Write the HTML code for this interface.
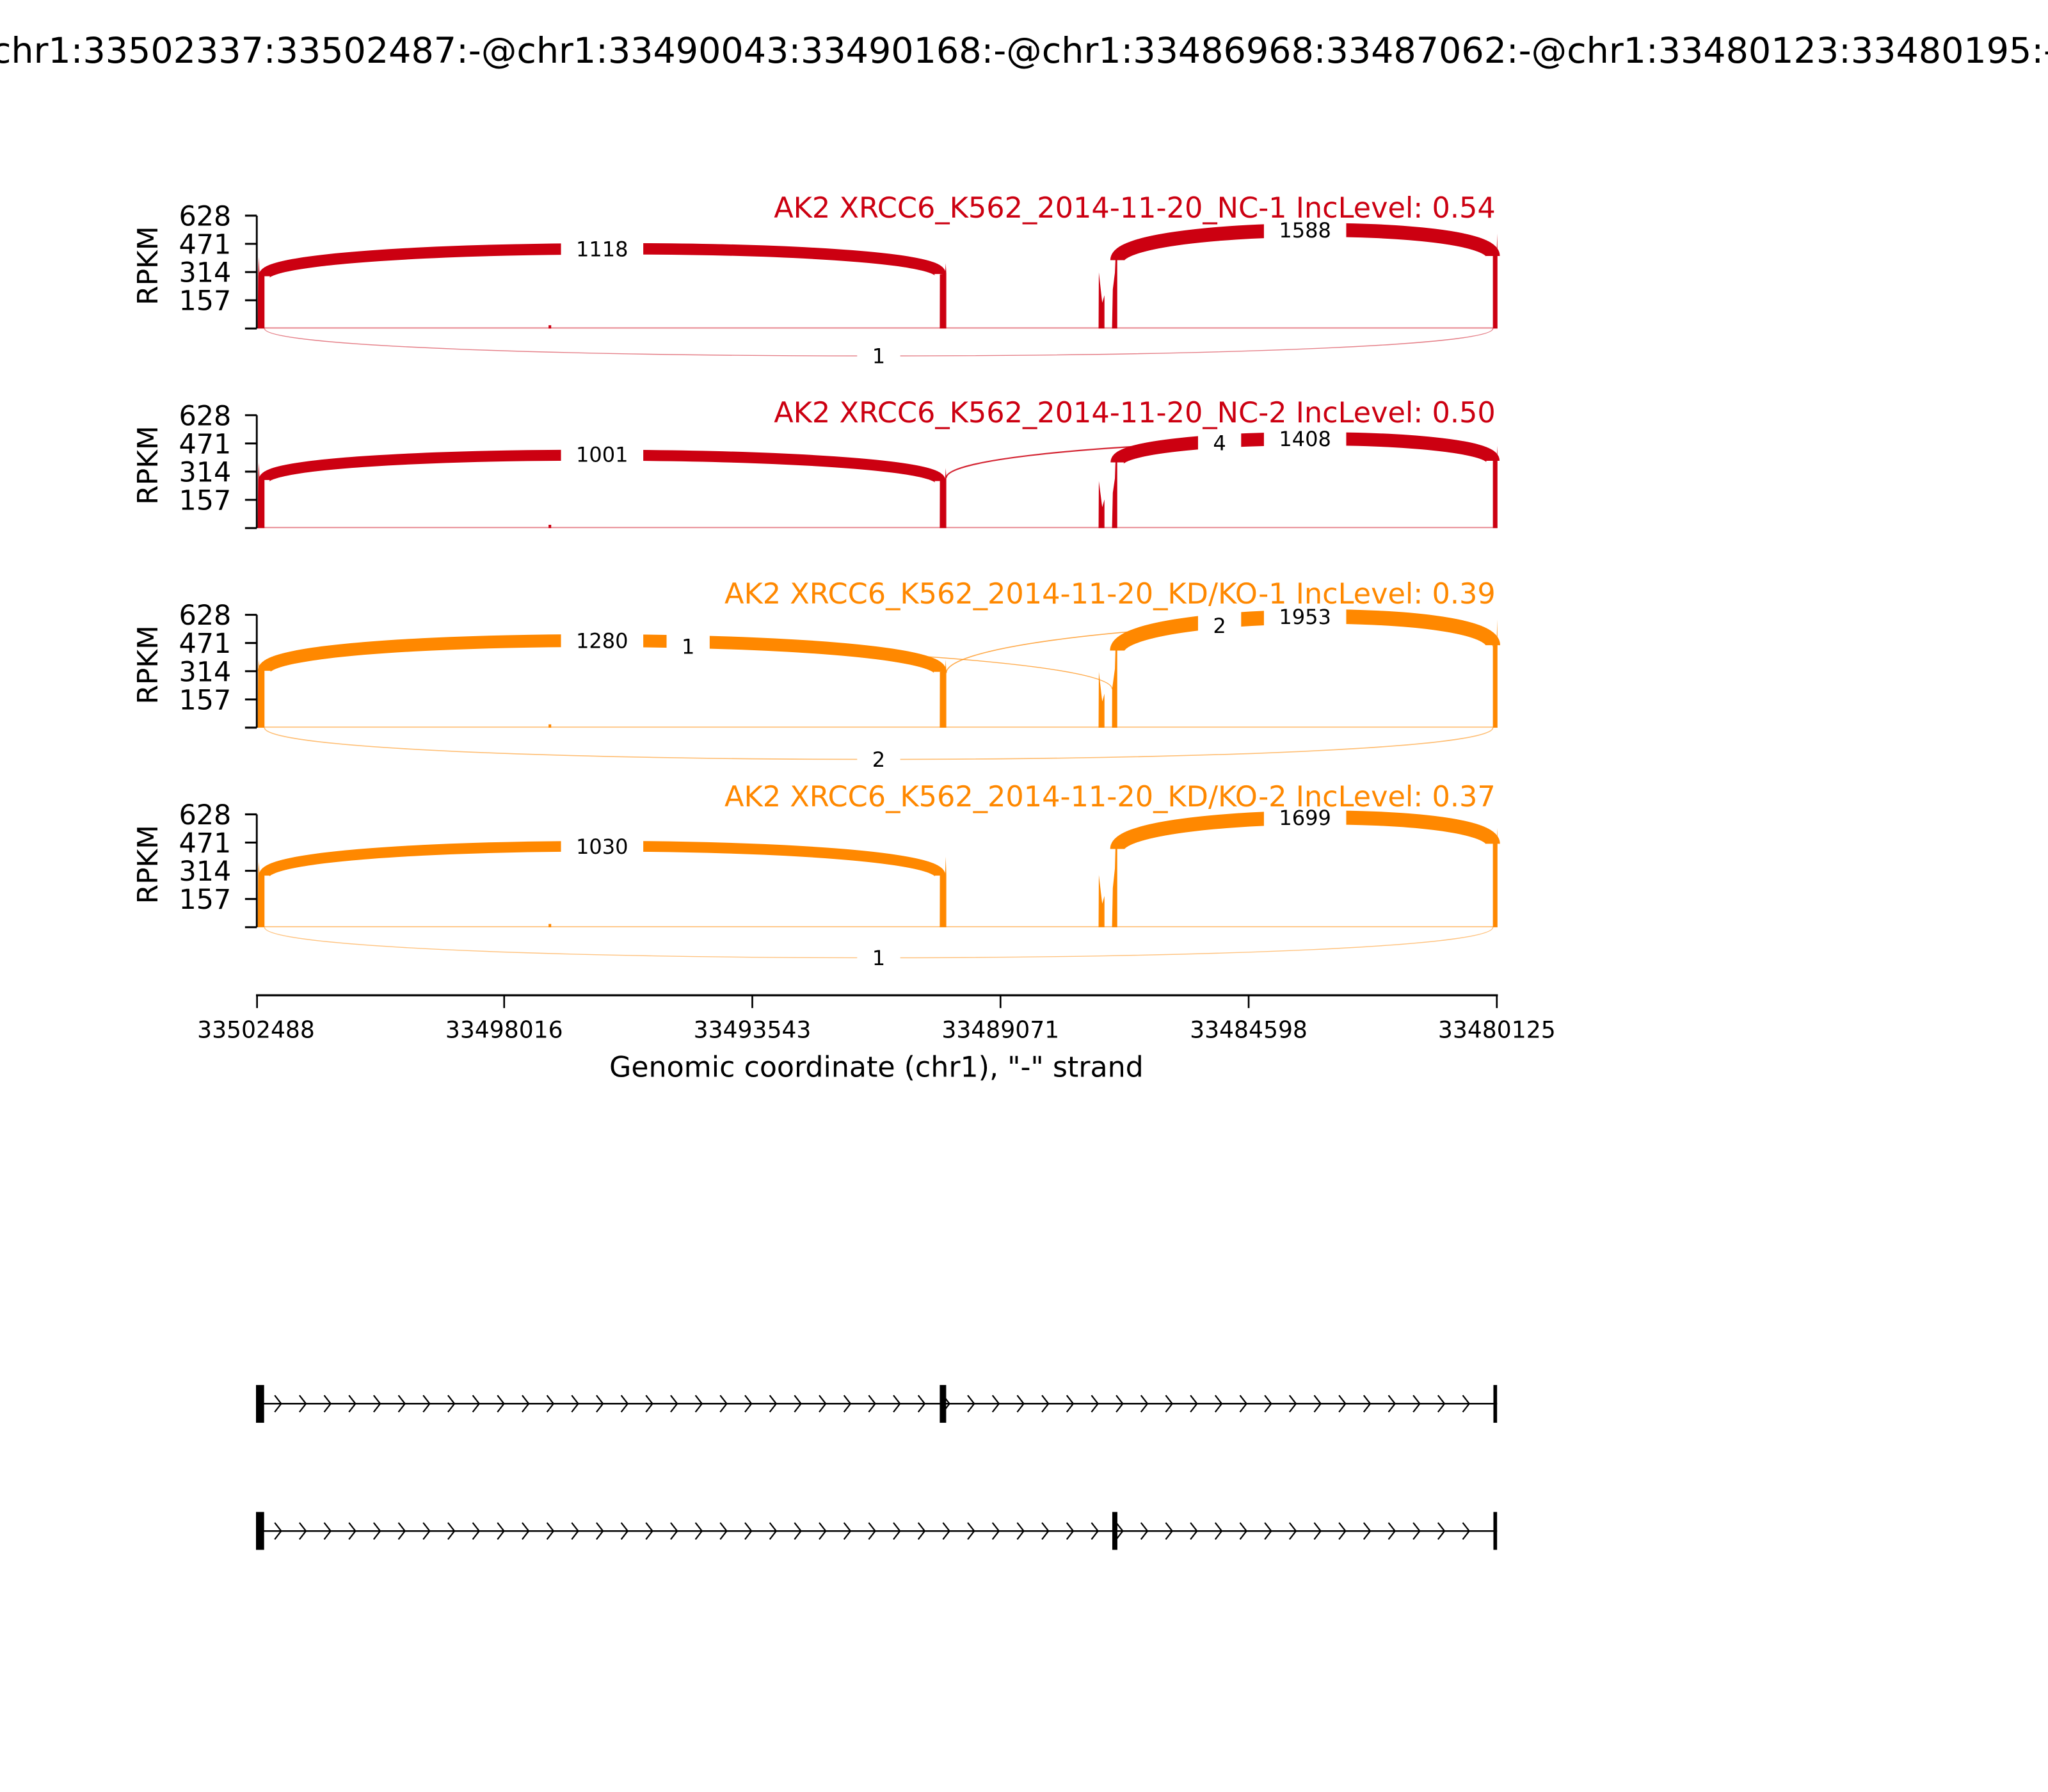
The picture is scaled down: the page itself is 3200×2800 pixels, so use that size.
<!DOCTYPE html>
<html><head><meta charset="utf-8"><style>
html,body{margin:0;padding:0;background:#fff;}
svg{display:block;}
text{font-family:"DejaVu Sans","Liberation Sans",sans-serif;}
</style></head><body>
<svg xmlns="http://www.w3.org/2000/svg" width="3200" height="2800" viewBox="0 0 1568 1372">
<rect x="0" y="0" width="1568" height="1372" fill="#fff"/>
<text x="784" y="48" font-size="27.2" text-anchor="middle" fill="#000">chr1:33502337:33502487:-@chr1:33490043:33490168:-@chr1:33486968:33487062:-@chr1:33480123:33480195:-</text>

<!-- Panel 1 -->
<g transform="translate(0,251.5)">
 <g fill="#CC0011" stroke="none">
  <path d="M197.3,0 L197.6,-40 L198.2,-54.7 L198.7,-41 L202.5,-40 L202.5,0Z"/>
  <path d="M719.5,0 L719.6,-41.5 L723.6,-42 L724.1,-50 L724.5,-42 L724.5,0Z"/>
  <path d="M841.1,0 L841.3,-43 L843.9,-19.7 L845.6,-25.5 L845.6,0Z"/>
  <path d="M851.4,0 L852,-30 L853.6,-42.7 L854,-52.3 L855.4,-52.3 L855.4,0Z"/>
  <path d="M1143,0 L1143,-55.5 L1145.8,-56 L1146.3,-72.7 L1146.5,-56 L1146.5,0Z"/>
  <rect x="420" y="-2.5" width="2" height="2.5"/>
 </g>
 <line x1="196.6" x2="1146.5" y1="-0.4" y2="-0.4" stroke="#CC0011" stroke-opacity="0.45" stroke-width="1"/>
 <g fill="none" stroke="#CC0011">
  <path d="M202.3,-40 C202.3,-66.87 719.8,-68.57 719.8,-41.7" stroke-width="8.7"/>
  <path d="M855.4,-52.3 C855.4,-80.83 1143,-84.03 1143,-55.5" stroke-width="10.6"/>
  <path d="M202.5,0 C202.5,28 1143,28 1143,0" stroke-width="0.7" stroke-opacity="0.5"/>
 </g>
 <g font-size="15.7" text-anchor="middle" fill="#000">
  <rect x="429.5" y="-77" width="63" height="32" fill="#fff"/><text x="461" y="-55.35">1118</text>
  <rect x="967.7" y="-91.3" width="63" height="32" fill="#fff"/><text x="999.2" y="-69.65">1588</text>
  <rect x="656.25" y="5" width="33" height="32" fill="#fff"/><text x="672.75" y="26.65">1</text>
 </g>
 <line x1="196.6" x2="196.6" y1="-86.4" y2="0" stroke="#000" stroke-width="1.4"/>
 <g stroke="#000" stroke-width="1.5">
  <line x1="187.6" x2="196.6" y1="0" y2="0"/><line x1="187.6" x2="196.6" y1="-21.6" y2="-21.6"/>
  <line x1="187.6" x2="196.6" y1="-43.2" y2="-43.2"/><line x1="187.6" x2="196.6" y1="-64.8" y2="-64.8"/>
  <line x1="187.6" x2="196.6" y1="-86.4" y2="-86.4"/>
 </g>
 <g font-size="21" text-anchor="end" fill="#000">
  <text x="177" y="-14">157</text><text x="177" y="-35.6">314</text><text x="177" y="-57.2">471</text><text x="177" y="-78.8">628</text>
 </g>
 <text transform="translate(120.5,-48.1) rotate(-90)" font-size="21.5" text-anchor="middle" fill="#000">RPKM</text>
 <text x="1145" y="-84.9" font-size="21.85" text-anchor="end" fill="#CC0011">AK2 XRCC6_K562_2014-11-20_NC-1 IncLevel: 0.54</text>
</g>

<!-- Panel 2 -->
<g transform="translate(0,404.3)">
 <g fill="#CC0011" stroke="none">
  <path d="M197.3,0 L197.6,-36.8 L198.2,-50 L198.7,-37.5 L202.5,-36.8 L202.5,0Z"/>
  <path d="M719.5,0 L719.6,-36 L723.6,-37 L724.1,-46 L724.5,-38.5 L724.5,0Z"/>
  <path d="M841.1,0 L841.3,-36 L843.9,-16 L845.6,-22 L845.6,0Z"/>
  <path d="M851.4,0 L852,-27 L853.6,-38 L854,-50.3 L855.4,-50.3 L855.4,0Z"/>
  <path d="M1143,0 L1143,-51.5 L1145.8,-52 L1146.3,-63 L1146.5,-52 L1146.5,0Z"/>
  <rect x="420" y="-2.5" width="2" height="2.5"/>
 </g>
 <line x1="196.6" x2="1146.5" y1="-0.4" y2="-0.4" stroke="#CC0011" stroke-opacity="0.45" stroke-width="1"/>
 <g fill="none" stroke="#CC0011">
  <path d="M724.5,-38.5 C724.5,-65.57 1143,-78.57 1143,-51.5" stroke-width="1.1" stroke-opacity="0.85"/>
  <path d="M202.3,-36.8 C202.3,-62.67 719.8,-61.87 719.8,-36" stroke-width="8.4"/>
  <path d="M855.4,-50.3 C855.4,-73.63 1143,-74.83 1143,-51.5" stroke-width="10.2"/>
 </g>
 <g font-size="15.7" text-anchor="middle" fill="#000">
  <rect x="429.5" y="-72.3" width="63" height="32" fill="#fff"/><text x="461" y="-50.65">1001</text>
  <rect x="917.25" y="-81.3" width="33" height="32" fill="#fff"/><text x="933.75" y="-59.65">4</text>
  <rect x="967.7" y="-84.4" width="63" height="32" fill="#fff"/><text x="999.2" y="-62.75">1408</text>
 </g>
 <line x1="196.6" x2="196.6" y1="-86.4" y2="0" stroke="#000" stroke-width="1.4"/>
 <g stroke="#000" stroke-width="1.5">
  <line x1="187.6" x2="196.6" y1="0" y2="0"/><line x1="187.6" x2="196.6" y1="-21.6" y2="-21.6"/>
  <line x1="187.6" x2="196.6" y1="-43.2" y2="-43.2"/><line x1="187.6" x2="196.6" y1="-64.8" y2="-64.8"/>
  <line x1="187.6" x2="196.6" y1="-86.4" y2="-86.4"/>
 </g>
 <g font-size="21" text-anchor="end" fill="#000">
  <text x="177" y="-14">157</text><text x="177" y="-35.6">314</text><text x="177" y="-57.2">471</text><text x="177" y="-78.8">628</text>
 </g>
 <text transform="translate(120.5,-48.1) rotate(-90)" font-size="21.5" text-anchor="middle" fill="#000">RPKM</text>
 <text x="1145" y="-80.9" font-size="21.85" text-anchor="end" fill="#CC0011">AK2 XRCC6_K562_2014-11-20_NC-2 IncLevel: 0.50</text>
</g>

<!-- Panel 3 -->
<g transform="translate(0,557.1)">
 <g fill="#FF8800" stroke="none">
  <path d="M197.3,0 L197.6,-43.5 L198.2,-52 L198.7,-44 L202.5,-43.5 L202.5,0Z"/>
  <path d="M719.5,0 L719.6,-42.7 L723.6,-43 L724.1,-52 L724.5,-41.8 L724.5,0Z"/>
  <path d="M841.1,0 L841.3,-42.7 L843.9,-20 L845.6,-26 L845.6,0Z"/>
  <path d="M851.4,0 L851.5,-29.6 L853.6,-45 L854,-59 L855.4,-59 L855.4,0Z"/>
  <path d="M1143,0 L1143,-63 L1145.8,-63.5 L1146.3,-82.7 L1146.5,-63.5 L1146.5,0Z"/>
  <rect x="420" y="-2.5" width="2" height="2.5"/>
 </g>
 <line x1="196.6" x2="1146.5" y1="-0.4" y2="-0.4" stroke="#FF8800" stroke-opacity="0.45" stroke-width="1"/>
 <g fill="none" stroke="#FF8800">
  <path d="M202.3,-43.5 C202.3,-77.83 851.4,-63.93 851.4,-29.6" stroke-width="0.7" stroke-opacity="0.7"/>
  <path d="M724.5,-41.8 C724.5,-76.53 1143,-97.03 1143,-62.3" stroke-width="0.8" stroke-opacity="0.7"/>
  <path d="M202.3,-43.5 C202.3,-74.83 719.8,-74.03 719.8,-42.7" stroke-width="9.8"/>
  <path d="M855.4,-59 C855.4,-90.8 1143,-94.9 1143,-63.1" stroke-width="11.1"/>
  <path d="M202.5,0 C202.5,32.4 1143,32.4 1143,0" stroke-width="0.8" stroke-opacity="0.55"/>
 </g>
 <g font-size="15.7" text-anchor="middle" fill="#000">
  <rect x="429.5" y="-82.6" width="63" height="32" fill="#fff"/><text x="461" y="-60.95">1280</text>
  <rect x="510.35" y="-78.3" width="33" height="32" fill="#fff"/><text x="526.85" y="-56.65">1</text>
  <rect x="917.25" y="-94.1" width="33" height="32" fill="#fff"/><text x="933.75" y="-72.45">2</text>
  <rect x="967.7" y="-100.9" width="63" height="32" fill="#fff"/><text x="999.2" y="-79.25">1953</text>
  <rect x="656.25" y="8.3" width="33" height="32" fill="#fff"/><text x="672.75" y="29.95">2</text>
 </g>
 <line x1="196.6" x2="196.6" y1="-86.4" y2="0" stroke="#000" stroke-width="1.4"/>
 <g stroke="#000" stroke-width="1.5">
  <line x1="187.6" x2="196.6" y1="0" y2="0"/><line x1="187.6" x2="196.6" y1="-21.6" y2="-21.6"/>
  <line x1="187.6" x2="196.6" y1="-43.2" y2="-43.2"/><line x1="187.6" x2="196.6" y1="-64.8" y2="-64.8"/>
  <line x1="187.6" x2="196.6" y1="-86.4" y2="-86.4"/>
 </g>
 <g font-size="21" text-anchor="end" fill="#000">
  <text x="177" y="-14">157</text><text x="177" y="-35.6">314</text><text x="177" y="-57.2">471</text><text x="177" y="-78.8">628</text>
 </g>
 <text transform="translate(120.5,-48.1) rotate(-90)" font-size="21.5" text-anchor="middle" fill="#000">RPKM</text>
 <text x="1145" y="-95" font-size="21.85" text-anchor="end" fill="#FF8800">AK2 XRCC6_K562_2014-11-20_KD/KO-1 IncLevel: 0.39</text>
</g>

<!-- Panel 4 -->
<g transform="translate(0,709.9)">
 <g fill="#FF8800" stroke="none">
  <path d="M197.3,0 L197.6,-39.5 L198.2,-50 L198.7,-40 L202.5,-39.5 L202.5,0Z"/>
  <path d="M719.5,0 L719.6,-39.5 L723.6,-40 L724.1,-54 L724.5,-40 L724.5,0Z"/>
  <path d="M841.1,0 L841.3,-40 L843.9,-18 L845.6,-24 L845.6,0Z"/>
  <path d="M851.4,0 L852,-30 L853.6,-45 L854,-60 L855.4,-60 L855.4,0Z"/>
  <path d="M1143,0 L1143,-64 L1145.8,-64.5 L1146.3,-76 L1146.5,-64.5 L1146.5,0Z"/>
  <rect x="420" y="-2.5" width="2" height="2.5"/>
 </g>
 <line x1="196.6" x2="1146.5" y1="-0.4" y2="-0.4" stroke="#FF8800" stroke-opacity="0.45" stroke-width="1"/>
 <g fill="none" stroke="#FF8800">
  <path d="M202.3,-39.5 C202.3,-69.5 719.8,-69.5 719.8,-39.5" stroke-width="8.2"/>
  <path d="M855.4,-59.9 C855.4,-89.23 1143,-93.23 1143,-63.9" stroke-width="10.8"/>
  <path d="M202.5,0 C202.5,31.2 1143,31.2 1143,0" stroke-width="0.7" stroke-opacity="0.5"/>
 </g>
 <g font-size="15.7" text-anchor="middle" fill="#000">
  <rect x="429.5" y="-78" width="63" height="32" fill="#fff"/><text x="461" y="-56.35">1030</text>
  <rect x="967.7" y="-99.9" width="63" height="32" fill="#fff"/><text x="999.2" y="-78.25">1699</text>
  <rect x="656.25" y="7.4" width="33" height="32" fill="#fff"/><text x="672.75" y="29.05">1</text>
 </g>
 <line x1="196.6" x2="196.6" y1="-86.4" y2="0" stroke="#000" stroke-width="1.4"/>
 <g stroke="#000" stroke-width="1.5">
  <line x1="187.6" x2="196.6" y1="0" y2="0"/><line x1="187.6" x2="196.6" y1="-21.6" y2="-21.6"/>
  <line x1="187.6" x2="196.6" y1="-43.2" y2="-43.2"/><line x1="187.6" x2="196.6" y1="-64.8" y2="-64.8"/>
  <line x1="187.6" x2="196.6" y1="-86.4" y2="-86.4"/>
 </g>
 <g font-size="21" text-anchor="end" fill="#000">
  <text x="177" y="-14">157</text><text x="177" y="-35.6">314</text><text x="177" y="-57.2">471</text><text x="177" y="-78.8">628</text>
 </g>
 <text transform="translate(120.5,-48.1) rotate(-90)" font-size="21.5" text-anchor="middle" fill="#000">RPKM</text>
 <text x="1145" y="-92.6" font-size="21.85" text-anchor="end" fill="#FF8800">AK2 XRCC6_K562_2014-11-20_KD/KO-2 IncLevel: 0.37</text>
</g>

<!-- X axis -->
<g stroke="#000">
 <line x1="196" x2="1146.8" y1="762" y2="762" stroke-width="1.6"/>
 <line x1="196.8" x2="196.8" y1="762" y2="771.8" stroke-width="1.3"/>
 <line x1="386" x2="386" y1="762" y2="771.8" stroke-width="1.3"/>
 <line x1="576" x2="576" y1="762" y2="771.8" stroke-width="1.3"/>
 <line x1="766" x2="766" y1="762" y2="771.8" stroke-width="1.3"/>
 <line x1="956" x2="956" y1="762" y2="771.8" stroke-width="1.3"/>
 <line x1="1146" x2="1146" y1="762" y2="771.8" stroke-width="1.3"/>
</g>
<g font-size="17.7" text-anchor="middle" fill="#000">
 <text x="196" y="794.5">33502488</text>
 <text x="386" y="794.5">33498016</text>
 <text x="576" y="794.5">33493543</text>
 <text x="766" y="794.5">33489071</text>
 <text x="956" y="794.5">33484598</text>
 <text x="1146" y="794.5">33480125</text>
</g>
<text x="671" y="824.5" font-size="21.7" text-anchor="middle" fill="#000">Genomic coordinate (chr1), "-" strand</text>

<!-- Gene structures -->
<defs>
 <g id="arrows" fill="none" stroke="#000" stroke-width="1.1">
  <path d="M210.3,-6.4L215.3,0L210.3,6.4 M229.25,-6.4L234.25,0L229.25,6.4 M248.2,-6.4L253.2,0L248.2,6.4 M267.15,-6.4L272.15,0L267.15,6.4 M286.1,-6.4L291.1,0L286.1,6.4 M305.05,-6.4L310.05,0L305.05,6.4 M324,-6.4L329,0L324,6.4 M342.95,-6.4L347.95,0L342.95,6.4 M361.9,-6.4L366.9,0L361.9,6.4 M380.85,-6.4L385.85,0L380.85,6.4 M399.8,-6.4L404.8,0L399.8,6.4 M418.75,-6.4L423.75,0L418.75,6.4 M437.7,-6.4L442.7,0L437.7,6.4 M456.65,-6.4L461.65,0L456.65,6.4 M475.6,-6.4L480.6,0L475.6,6.4 M494.55,-6.4L499.55,0L494.55,6.4 M513.5,-6.4L518.5,0L513.5,6.4 M532.45,-6.4L537.45,0L532.45,6.4 M551.4,-6.4L556.4,0L551.4,6.4 M570.35,-6.4L575.35,0L570.35,6.4 M589.3,-6.4L594.3,0L589.3,6.4 M608.25,-6.4L613.25,0L608.25,6.4 M627.2,-6.4L632.2,0L627.2,6.4 M646.15,-6.4L651.15,0L646.15,6.4 M665.1,-6.4L670.1,0L665.1,6.4 M684.05,-6.4L689.05,0L684.05,6.4 M703,-6.4L708,0L703,6.4 M721.95,-6.4L726.95,0L721.95,6.4 M740.9,-6.4L745.9,0L740.9,6.4 M759.85,-6.4L764.85,0L759.85,6.4 M778.8,-6.4L783.8,0L778.8,6.4 M797.75,-6.4L802.75,0L797.75,6.4 M816.7,-6.4L821.7,0L816.7,6.4 M835.65,-6.4L840.65,0L835.65,6.4 M854.6,-6.4L859.6,0L854.6,6.4 M873.55,-6.4L878.55,0L873.55,6.4 M892.5,-6.4L897.5,0L892.5,6.4 M911.45,-6.4L916.45,0L911.45,6.4 M930.4,-6.4L935.4,0L930.4,6.4 M949.35,-6.4L954.35,0L949.35,6.4 M968.3,-6.4L973.3,0L968.3,6.4 M987.25,-6.4L992.25,0L987.25,6.4 M1006.2,-6.4L1011.2,0L1006.2,6.4 M1025.15,-6.4L1030.15,0L1025.15,6.4 M1044.1,-6.4L1049.1,0L1044.1,6.4 M1063.05,-6.4L1068.05,0L1063.05,6.4 M1082,-6.4L1087,0L1082,6.4 M1100.95,-6.4L1105.95,0L1100.95,6.4 M1119.9,-6.4L1124.9,0L1119.9,6.4"/>
 </g>
</defs>
<g transform="translate(0,1074.7)">
 <line x1="196" x2="1146.2" y1="0" y2="0" stroke="#000" stroke-width="1.2"/>
 <use href="#arrows"/>
 <rect x="196" y="-14.3" width="6.2" height="28.9" fill="#000"/>
 <rect x="719.5" y="-14.3" width="4.9" height="28.9" fill="#000"/>
 <rect x="1143.4" y="-14.3" width="2.8" height="28.9" fill="#000"/>
</g>
<g transform="translate(0,1172.2)">
 <line x1="196" x2="1146.2" y1="0" y2="0" stroke="#000" stroke-width="1.2"/>
 <use href="#arrows"/>
 <rect x="196" y="-14.6" width="6.2" height="29" fill="#000"/>
 <rect x="851.6" y="-14.6" width="3.9" height="29" fill="#000"/>
 <rect x="1143.4" y="-14.6" width="2.8" height="29" fill="#000"/>
</g>
</svg>
</body></html>
